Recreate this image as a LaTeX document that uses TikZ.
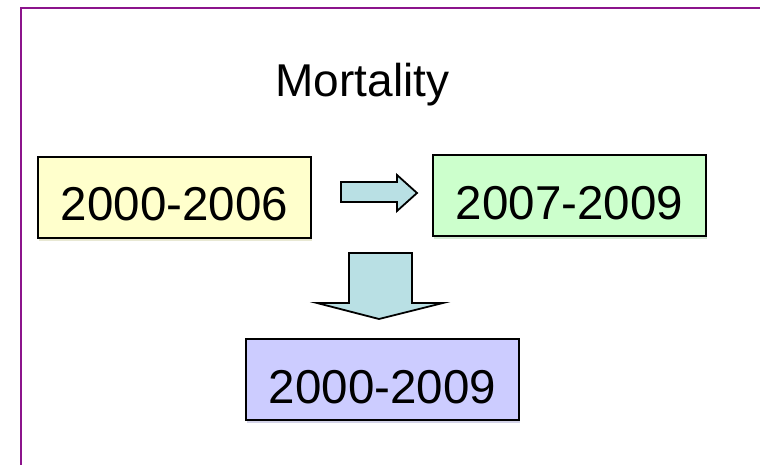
\documentclass[tikz,border=0pt]{standalone}
\usepackage{fontspec}
\setmainfont{Liberation Sans}
\usetikzlibrary{shadows}
\definecolor{framecol}{RGB}{140,20,140}
\definecolor{yellowbox}{RGB}{255,255,204}
\definecolor{greenbox}{RGB}{204,255,204}
\definecolor{purplebox}{RGB}{204,204,255}
\definecolor{arrowfill}{RGB}{185,224,228}
\tikzset{
  yearbox/.style={draw=black, line width=2pt, minimum width=#1, inner xsep=0pt, inner ysep=0pt,
    text height=64pt, text depth=17pt, font=\fontsize{47.5}{56}\selectfont, anchor=north west},
  blockarrow/.style={draw=black, line width=1.8pt, fill=arrowfill, line join=miter},
  titletext/.style={font=\fontsize{46}{54}\selectfont, anchor=base, inner sep=0pt}
}
\begin{document}
\begin{tikzpicture}[x=1pt,y=-1pt]
\useasboundingbox (0,0) rectangle (760,465);
\fill[white] (0,0) rectangle (760,465);
% frame
\draw[framecol, line width=2.6pt] (21,466) -- (21,8) -- (761,8);
% title
\node[titletext] (title) at (362.5,97) {Mortality};
% boxes
\node[yearbox=273pt, fill=yellowbox, copy shadow={shadow xshift=1pt, shadow yshift=-2.5pt, draw=none, fill=yellowbox!70!gray!60}] (a) at (37,156) {2000-2006};
\node[yearbox=273pt, fill=greenbox, copy shadow={shadow xshift=1pt, shadow yshift=-2.5pt, draw=none, fill=greenbox!70!gray!60}] (b) at (432,154) {2007-2009};
\node[yearbox=273pt, fill=purplebox, copy shadow={shadow xshift=1pt, shadow yshift=-2.5pt, draw=none, fill=purplebox!70!gray!60}] (c) at (245,338) {2000-2009};
% right block arrow
\draw[blockarrow] (341,182) -- (397,182) -- (397,175) -- (417,193) -- (397,211) -- (397,202) -- (341,202) -- cycle;
% down block arrow
\draw[blockarrow] (349,253) -- (412,253) -- (412,303) -- (443,303) -- (379,319) -- (317,303) -- (349,303) -- cycle;
\end{tikzpicture}
\end{document}
